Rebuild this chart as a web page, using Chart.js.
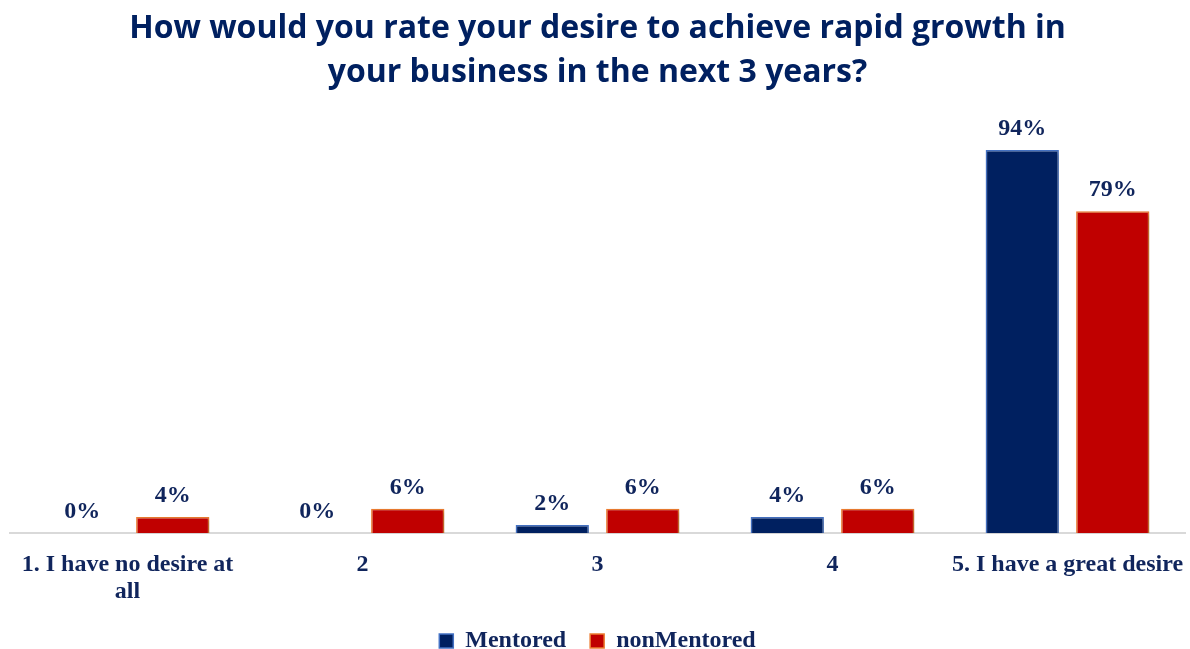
<!DOCTYPE html>
<html>
<head>
<meta charset="utf-8">
<script src="https://cdn.jsdelivr.net/npm/chart.js@4/dist/chart.umd.min.js"></script>
<style>
  html, body { margin: 0; padding: 0; background: #fff; }
  #wrap { width: 1190px; height: 649px; }
</style>
</head>
<body>
<div id="wrap"><canvas id="growthChart"></canvas></div>
<script>
// Respostas por nível de desejo de crescimento
const categories = [['1. I have no desire at', 'all'], '2', '3', '4', '5. I have a great desire'];
const mentored = [0, 0, 2, 4, 94];
const nonMentored = [4, 6, 6, 6, 79];

const NAVY = '#002060';
const LABEL_COLOR = '#10255c';

// rótulos de valor acima das barras
const valueLabels = {
  id: 'valueLabels',
  afterDatasetsDraw(chart) {
    const { ctx } = chart;
    ctx.save();
    ctx.font = 'bold 24px "Liberation Serif"';
    ctx.fillStyle = LABEL_COLOR;
    ctx.textAlign = 'center';
    ctx.textBaseline = 'bottom';
    chart.data.datasets.forEach((ds, i) => {
      chart.getDatasetMeta(i).data.forEach((bar, j) => {
        ctx.fillText(ds.data[j] + '%', bar.x, bar.y - 9);
      });
    });
    ctx.restore();
  }
};

// sombra leve nas barras
const barShadow = {
  id: 'barShadow',
  beforeDatasetsDraw(chart) {
    const { ctx } = chart;
    ctx.save();
    ctx.shadowColor = 'rgba(0,0,0,0.25)';
    ctx.shadowBlur = 4;
    ctx.shadowOffsetX = 2;
    ctx.shadowOffsetY = 2;
  },
  afterDatasetsDraw(chart) {
    chart.ctx.restore();
  }
};

const ctx = document.getElementById('growthChart');
new Chart(ctx, {
  type: 'bar',
  data: {
    labels: categories,
    datasets: [
      {
        label: 'Mentored',
        data: mentored,
        backgroundColor: NAVY,
        borderColor: '#4472c4',
        borderWidth: 1.5,
        categoryPercentage: 0.77,
        barPercentage: 0.81,
      },
      {
        label: 'nonMentored',
        data: nonMentored,
        backgroundColor: '#c00000',
        borderColor: '#ed7d31',
        borderWidth: 1.5,
        categoryPercentage: 0.77,
        barPercentage: 0.81,
      },
    ],
  },
  options: {
    responsive: true,
    maintainAspectRatio: false,
    animation: false,
    layout: { padding: { left: 10, right: 5, top: 6, bottom: -14 } },
    plugins: {
      title: {
        display: true,
        text: ['How would you rate your desire to achieve rapid growth in', 'your business in the next 3 years?'],
        color: NAVY,
        font: { family: '"Open Sans"', size: 32, weight: 'bold', lineHeight: 1.4 },
        padding: { top: 0, bottom: 30 },
      },
      legend: {
        position: 'bottom',
        labels: {
          color: LABEL_COLOR,
          font: { family: '"Liberation Serif"', size: 24, weight: 'bold' },
          boxWidth: 14,
          boxHeight: 14,
          padding: 24,
        },
      },
      tooltip: { enabled: false },
    },
    scales: {
      x: {
        // marcas invisíveis só para afastar os rótulos do eixo
        grid: { display: true, drawOnChartArea: false, drawTicks: true, tickLength: 18, color: 'rgba(0,0,0,0)' },
        border: { display: true, color: '#d9d9d9', width: 2 },
        ticks: {
          color: LABEL_COLOR,
          font: { family: '"Liberation Serif"', size: 24, weight: 'bold', lineHeight: 1.12 },
          padding: 0,
          maxRotation: 0,
          autoSkip: false,
        },
      },
      y: {
        display: false,
        min: 0,
        max: 100,
      },
    },
  },
  plugins: [barShadow, valueLabels],
});
</script>
</body>
</html>
